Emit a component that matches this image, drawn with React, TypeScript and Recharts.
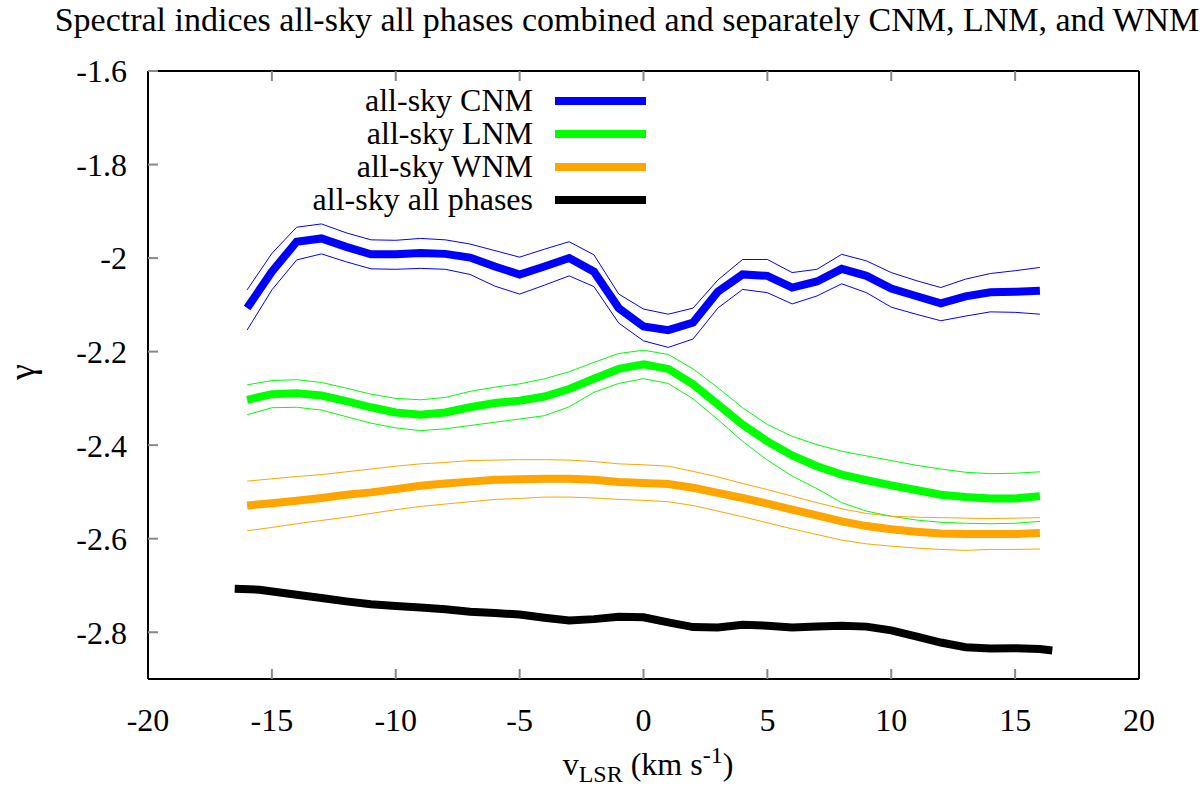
import { LineChart, Line, XAxis, YAxis } from 'recharts'

const FONT = 'Liberation Serif'

// v_LSR grid (km/s) for the phase-separated curves
const velocities = [-16, -15, -14, -13, -12, -11, -10, -9, -8, -7, -6, -5, -4, -3, -2, -1, 0, 1, 2, 3, 4, 5, 6, 7, 8, 9, 10, 11, 12, 13, 14, 15, 16]

const cnm = [-2.107, -2.029, -1.965, -1.958, -1.976, -1.992, -1.992, -1.989, -1.991, -1.999, -2.018, -2.035, -2.018, -2.0, -2.029, -2.107, -2.146, -2.154, -2.138, -2.072, -2.035, -2.038, -2.063, -2.05, -2.023, -2.038, -2.065, -2.081, -2.097, -2.082, -2.073, -2.072, -2.07]
const cnmHi = [-2.068, -1.99, -1.934, -1.927, -1.946, -1.961, -1.962, -1.958, -1.961, -1.97, -1.984, -1.998, -1.981, -1.965, -1.993, -2.077, -2.109, -2.12, -2.107, -2.047, -2.003, -2.003, -2.031, -2.024, -1.992, -2.006, -2.031, -2.048, -2.063, -2.045, -2.033, -2.027, -2.02]
const cnmLo = [-2.154, -2.068, -2.004, -1.991, -2.008, -2.023, -2.024, -2.022, -2.024, -2.035, -2.06, -2.077, -2.058, -2.038, -2.061, -2.139, -2.177, -2.191, -2.173, -2.107, -2.067, -2.074, -2.098, -2.081, -2.055, -2.074, -2.105, -2.12, -2.134, -2.124, -2.115, -2.116, -2.12]

const lnm = [-2.303, -2.291, -2.289, -2.294, -2.306, -2.319, -2.33, -2.335, -2.33, -2.319, -2.31, -2.305, -2.296, -2.28, -2.258, -2.237, -2.227, -2.237, -2.27, -2.313, -2.356, -2.392, -2.422, -2.445, -2.463, -2.475, -2.486, -2.496, -2.506, -2.511, -2.514, -2.514, -2.509]
const lnmHi = [-2.271, -2.262, -2.26, -2.266, -2.278, -2.291, -2.3, -2.303, -2.298, -2.285, -2.276, -2.269, -2.258, -2.243, -2.223, -2.204, -2.197, -2.206, -2.237, -2.277, -2.32, -2.356, -2.381, -2.399, -2.413, -2.423, -2.433, -2.443, -2.451, -2.458, -2.461, -2.46, -2.457]
const lnmLo = [-2.335, -2.32, -2.319, -2.325, -2.339, -2.353, -2.363, -2.369, -2.365, -2.358, -2.351, -2.344, -2.337, -2.318, -2.287, -2.268, -2.258, -2.268, -2.301, -2.345, -2.392, -2.432, -2.466, -2.493, -2.523, -2.541, -2.552, -2.56, -2.565, -2.567, -2.568, -2.567, -2.563]

const wnm = [-2.529, -2.524, -2.519, -2.513, -2.506, -2.501, -2.494, -2.487, -2.482, -2.478, -2.474, -2.473, -2.472, -2.472, -2.474, -2.479, -2.481, -2.483, -2.491, -2.502, -2.513, -2.525, -2.538, -2.55, -2.563, -2.573, -2.58, -2.585, -2.589, -2.59, -2.59, -2.59, -2.588]
const wnmHi = [-2.477, -2.472, -2.467, -2.463, -2.457, -2.451, -2.445, -2.44, -2.437, -2.433, -2.432, -2.431, -2.431, -2.432, -2.435, -2.44, -2.442, -2.445, -2.456, -2.468, -2.482, -2.495, -2.509, -2.523, -2.536, -2.546, -2.552, -2.554, -2.555, -2.556, -2.557, -2.556, -2.555]
const wnmLo = [-2.583, -2.576, -2.568, -2.561, -2.554, -2.546, -2.538, -2.531, -2.526, -2.521, -2.516, -2.514, -2.511, -2.511, -2.513, -2.516, -2.518, -2.521, -2.529, -2.541, -2.553, -2.566, -2.579, -2.591, -2.603, -2.611, -2.616, -2.62, -2.623, -2.625, -2.623, -2.623, -2.622]

// all phases combined has its own sampling
const allV = [-16.5, -15.5, -14, -13, -12, -11, -10, -9, -8, -7, -6, -5, -4, -3, -2, -1, 0, 1, 2, 3, 4, 5, 6, 7, 8, 9, 10, 11, 12, 13, 14, 15, 16, 16.5]
const allPhases = [-2.707, -2.709, -2.72, -2.727, -2.734, -2.74, -2.744, -2.747, -2.751, -2.756, -2.759, -2.762, -2.769, -2.775, -2.772, -2.767, -2.768, -2.779, -2.789, -2.79, -2.784, -2.786, -2.79, -2.788, -2.786, -2.788, -2.796, -2.809, -2.822, -2.832, -2.835, -2.834, -2.836, -2.839]

const xTicks = [-20, -15, -10, -5, 0, 5, 10, 15, 20]
const yTicks = [-2.8, -2.6, -2.4, -2.2, -2, -1.8, -1.6]

const legendNames = ['all-sky CNM', 'all-sky LNM', 'all-sky WNM', 'all-sky all phases']
const legendColors = ['#0000ff', '#00ff00', '#ffa500', '#000000']

const rows = velocities.map((v, i) => ({
  v,
  cnm: cnm[i], cnmHi: cnmHi[i], cnmLo: cnmLo[i],
  lnm: lnm[i], lnmHi: lnmHi[i], lnmLo: lnmLo[i],
  wnm: wnm[i], wnmHi: wnmHi[i], wnmLo: wnmLo[i],
}))
const allRows = allV.map((v, i) => ({ v, all: allPhases[i] }))

const fmt = (v: number) => String(Math.round(v * 10) / 10)
const tickStyle = { fontSize: 32, fill: '#000', fontFamily: FONT }
const tickLine = { stroke: '#888', strokeWidth: 2 }
const axisLine = { stroke: '#000', strokeWidth: 2 }

export default function App() {
  const thin = (key: string, color: string) => (
    <Line key={key} dataKey={key} stroke={color} strokeWidth={1} dot={false} activeDot={false}
      legendType="none" isAnimationActive={false} />
  )
  const thick = (key: string, color: string) => (
    <Line key={key} dataKey={key} stroke={color} strokeWidth={8} dot={false} activeDot={false}
      isAnimationActive={false} />
  )
  return (
    <div style={{ position: 'relative', width: 1200, height: 792, fontFamily: FONT, color: '#000' }}>
      <style>{'body{margin:0} svg text{font-family:"Liberation Serif",serif}'}</style>
      <LineChart width={1200} height={792} data={rows} style={{ fontFamily: FONT }}
        margin={{ top: 70, right: 60, bottom: 73, left: 88 }}>
        <XAxis dataKey="v" type="number" domain={[-20, 20]} ticks={xTicks} interval={0}
          allowDataOverflow height={40} tick={tickStyle} tickLine={tickLine} axisLine={axisLine}
          tickSize={-10} tickMargin={39} />
        <XAxis xAxisId="top" orientation="top" dataKey="v" type="number" domain={[-20, 20]}
          ticks={xTicks} interval={0} height={1} tickFormatter={() => ''}
          tickLine={tickLine} axisLine={axisLine} tickSize={-10} />
        <YAxis type="number" domain={[-2.9, -1.6]} ticks={yTicks} interval={0} allowDataOverflow
          width={60} tick={tickStyle} tickFormatter={fmt} tickLine={tickLine} axisLine={axisLine}
          tickSize={-10} tickMargin={31} />
        <YAxis yAxisId="right" orientation="right" type="number" domain={[-2.9, -1.6]} ticks={yTicks}
          interval={0} width={1} tickFormatter={() => ''} tickLine={tickLine} axisLine={axisLine}
          tickSize={-10} />
        {thin('cnmHi', '#0000ff')}
        {thin('cnmLo', '#0000ff')}
        {thin('lnmHi', '#00ff00')}
        {thin('lnmLo', '#00ff00')}
        {thin('wnmHi', '#ffa500')}
        {thin('wnmLo', '#ffa500')}
        {thick('cnm', '#0000ff')}
        {thick('lnm', '#00ff00')}
        {thick('wnm', '#ffa500')}
        <Line data={allRows} dataKey="all" stroke="#000" strokeWidth={8} dot={false} activeDot={false}
          isAnimationActive={false} />
      </LineChart>

      <div style={{ position: 'absolute', left: 627, top: 20, transform: 'translate(-50%, -50%)',
        fontSize: 34, whiteSpace: 'nowrap' }}>
        Spectral indices all-sky all phases combined and separately CNM, LNM, and WNM
      </div>

      <div style={{ position: 'absolute', left: 0, top: 84, width: 646 }}>
        {legendNames.map((name, i) => (
          <div key={name} style={{ display: 'flex', justifyContent: 'flex-end', alignItems: 'center',
            height: 33, fontSize: 32, whiteSpace: 'nowrap' }}>
            <span>{name}</span>
            <span style={{ display: 'inline-block', width: 91, height: 8, marginLeft: 22,
              background: legendColors[i] }} />
          </div>
        ))}
      </div>

      <div style={{ position: 'absolute', left: 22, top: 372, transform: 'translate(-50%, -50%) rotate(-90deg)',
        fontSize: 36 }}>γ</div>

      <div style={{ position: 'absolute', left: 648, top: 765, transform: 'translate(-50%, -50%)',
        fontSize: 32, whiteSpace: 'nowrap' }}>
        v<sub style={{ fontSize: 24 }}>LSR</sub> (km s<sup style={{ fontSize: 24 }}>-1</sup>)
      </div>
    </div>
  )
}
